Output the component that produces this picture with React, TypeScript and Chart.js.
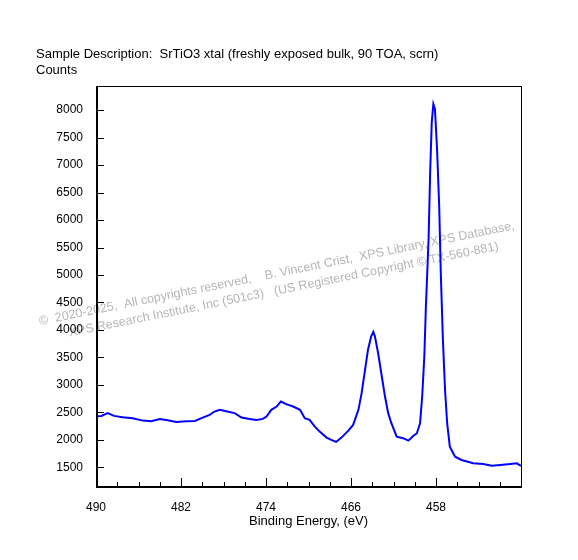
import { Chart, registerables } from "chart.js";
import { useEffect, useRef } from "react";

Chart.register(...registerables);

const FONT = "'Liberation Sans', Arial, sans-serif";

const title =
  "Sample Description:  SrTiO3 xtal (freshly exposed bulk, 90 TOA, scrn)";
const yTitle = "Counts";
const xTitle = "Binding Energy, (eV)";
const watermark1 =
  "©  2020-2025,  All copyrights reserved,    B. Vincent Crist,  XPS Library, XPS Database,";
const watermark2 =
  "XPS Research Institute, Inc (501c3)   (US Registered Copyright © TX-560-881)";

// binding energy (eV) and counts
const bindingEnergy = [
  490.0, 489.5, 488.9, 488.3, 487.5, 486.55, 485.6, 484.8, 484.0, 483.25,
  482.45, 481.5, 480.7, 479.95, 479.3, 478.85, 478.35, 477.75, 476.95, 476.3,
  475.55, 474.9, 474.3, 473.95, 473.5, 473.0, 472.6, 472.1, 471.45, 470.8,
  470.35, 469.9, 469.4, 468.95, 468.3, 467.85, 467.4, 466.9, 466.25, 465.8,
  465.3, 465.0, 464.7, 464.4, 464.1, 463.9, 463.75, 463.45, 463.1, 462.8,
  462.5, 462.2, 461.7, 461.1, 460.6, 460.15, 459.8, 459.5, 459.3, 459.1,
  458.95, 458.7, 458.55, 458.4, 458.25, 458.1, 457.9, 457.7, 457.55, 457.35,
  457.15, 456.95, 456.7, 456.2, 455.6, 455.0, 454.5, 453.55, 452.75, 451.95,
  451.0, 450.4, 450.0,
];
const counts = [
  2430, 2436, 2486, 2436, 2412, 2394, 2350, 2339, 2381, 2358,
  2327, 2339, 2345, 2405, 2454, 2515, 2546, 2522, 2486, 2405,
  2381, 2363, 2381, 2424, 2546, 2606, 2698, 2650, 2606, 2546,
  2394, 2363, 2241, 2150, 2041, 1998, 1962, 2041, 2168, 2272,
  2546, 2850, 3245, 3641, 3883, 3964, 3883, 3580, 3153, 2788,
  2486, 2303, 2059, 2030, 1985, 2071, 2120, 2303, 2788, 3518,
  4431, 5648, 6866, 7778, 8112, 8021, 7291, 6256, 5040, 3823,
  2911, 2303, 1876, 1693, 1633, 1602, 1573, 1560, 1529, 1542,
  1560, 1573, 1524,
];

const yTicks = [1500, 2000, 2500, 3000, 3500, 4000, 4500, 5000, 5500, 6000, 6500, 7000, 7500, 8000];
const xTicks = [490, 488, 486, 484, 482, 480, 478, 476, 474, 472, 470, 468, 466, 464, 462, 460, 458, 456, 454, 452];
const xMajorTicks = [490, 482, 474, 466, 458];

const decorations = {
  id: "decorations",
  beforeDraw(chart: Chart) {
    const ctx = chart.ctx;
    ctx.save();
    ctx.fillStyle = "#fff";
    ctx.fillRect(0, 0, chart.width, chart.height);
    ctx.translate(40, 325);
    ctx.rotate((-11.4 * Math.PI) / 180);
    ctx.font = `12.5px ${FONT}`;
    ctx.fillStyle = "rgba(150,150,150,0.7)";
    ctx.textBaseline = "alphabetic";
    ctx.textAlign = "left";
    ctx.fillText(watermark1, 0, 0);
    ctx.fillText(watermark2, 27, 17);
    ctx.restore();
  },
  afterDraw(chart: Chart) {
    const ctx = chart.ctx;
    const { left, right, top, bottom } = chart.chartArea;
    const xs = chart.scales.x;
    const ys = chart.scales.y;
    ctx.save();
    ctx.strokeStyle = "#000";
    ctx.lineWidth = 1;
    ctx.strokeRect(left + 0.5, top + 0.5, right - left, bottom - top);
    ctx.lineWidth = 2;
    ctx.beginPath();
    ctx.moveTo(left + 1, top);
    ctx.lineTo(left + 1, bottom + 1);
    ctx.lineTo(right + 1, bottom + 1);
    ctx.stroke();
    ctx.lineWidth = 1;
    ctx.beginPath();
    for (const v of yTicks) {
      const y = Math.round(ys.getPixelForValue(v)) + 0.5;
      ctx.moveTo(left, y);
      ctx.lineTo(left + 8, y);
    }
    for (const v of xTicks) {
      const x = Math.round(xs.getPixelForValue(v)) + 0.5;
      const len = xMajorTicks.includes(v) ? 8 : 4;
      ctx.moveTo(x, bottom);
      ctx.lineTo(x, bottom - len);
    }
    ctx.stroke();

    ctx.fillStyle = "#000";
    ctx.font = `13px ${FONT}`;
    ctx.textBaseline = "middle";
    ctx.textAlign = "left";
    ctx.fillText(title, 36, 54);
    ctx.fillText(yTitle, 36, 70);
    ctx.textAlign = "center";
    ctx.fillText(xTitle, (left + right) / 2, 521);
    ctx.restore();
  },
};

export default function App() {
  const canvasRef = useRef<HTMLCanvasElement>(null);
  const chartRef = useRef<Chart | null>(null);

  useEffect(() => {
    document.body.style.margin = "0";
    if (!canvasRef.current) return;

    chartRef.current = new Chart(canvasRef.current, {
      type: "line",
      data: {
        datasets: [
          {
            label: "Counts",
            data: bindingEnergy.map((x, i) => ({ x, y: counts[i] })),
            borderColor: "#0000ff",
            borderWidth: 2,
            pointRadius: 0,
            tension: 0,
          },
        ],
      },
      options: {
        responsive: false,
        animation: false,
        devicePixelRatio: 1,
        layout: {
          padding: { left: 0, top: 86, right: 57, bottom: 0 },
        },
        plugins: {
          legend: { display: false },
          tooltip: { enabled: false },
        },
        scales: {
          x: {
            type: "linear",
            reverse: true,
            min: 450,
            max: 490,
            afterFit: (s) => {
              s.height = 74;
            },
            afterBuildTicks: (s) => {
              s.ticks = xMajorTicks.map((value) => ({ value }));
            },
            grid: { display: false, drawTicks: false },
            border: { display: false },
            ticks: {
              color: "#000",
              font: { family: FONT, size: 12 },
              padding: 14,
              maxRotation: 0,
              autoSkip: false,
              callback: (v) => String(v),
            },
          },
          y: {
            min: 1160,
            max: 8440,
            afterFit: (s) => {
              s.width = 96;
            },
            afterBuildTicks: (s) => {
              s.ticks = yTicks.map((value) => ({ value }));
            },
            grid: { display: false, drawTicks: false },
            border: { display: false },
            ticks: {
              color: "#000",
              font: { family: FONT, size: 12 },
              padding: 13,
              autoSkip: false,
              callback: (v) => String(v),
            },
          },
        },
      },
      plugins: [decorations],
    });

    return () => chartRef.current?.destroy();
  }, []);

  return (
    <div style={{ width: 578, height: 560, background: "#fff" }}>
      <canvas ref={canvasRef} width={578} height={560}></canvas>
    </div>
  );
}
